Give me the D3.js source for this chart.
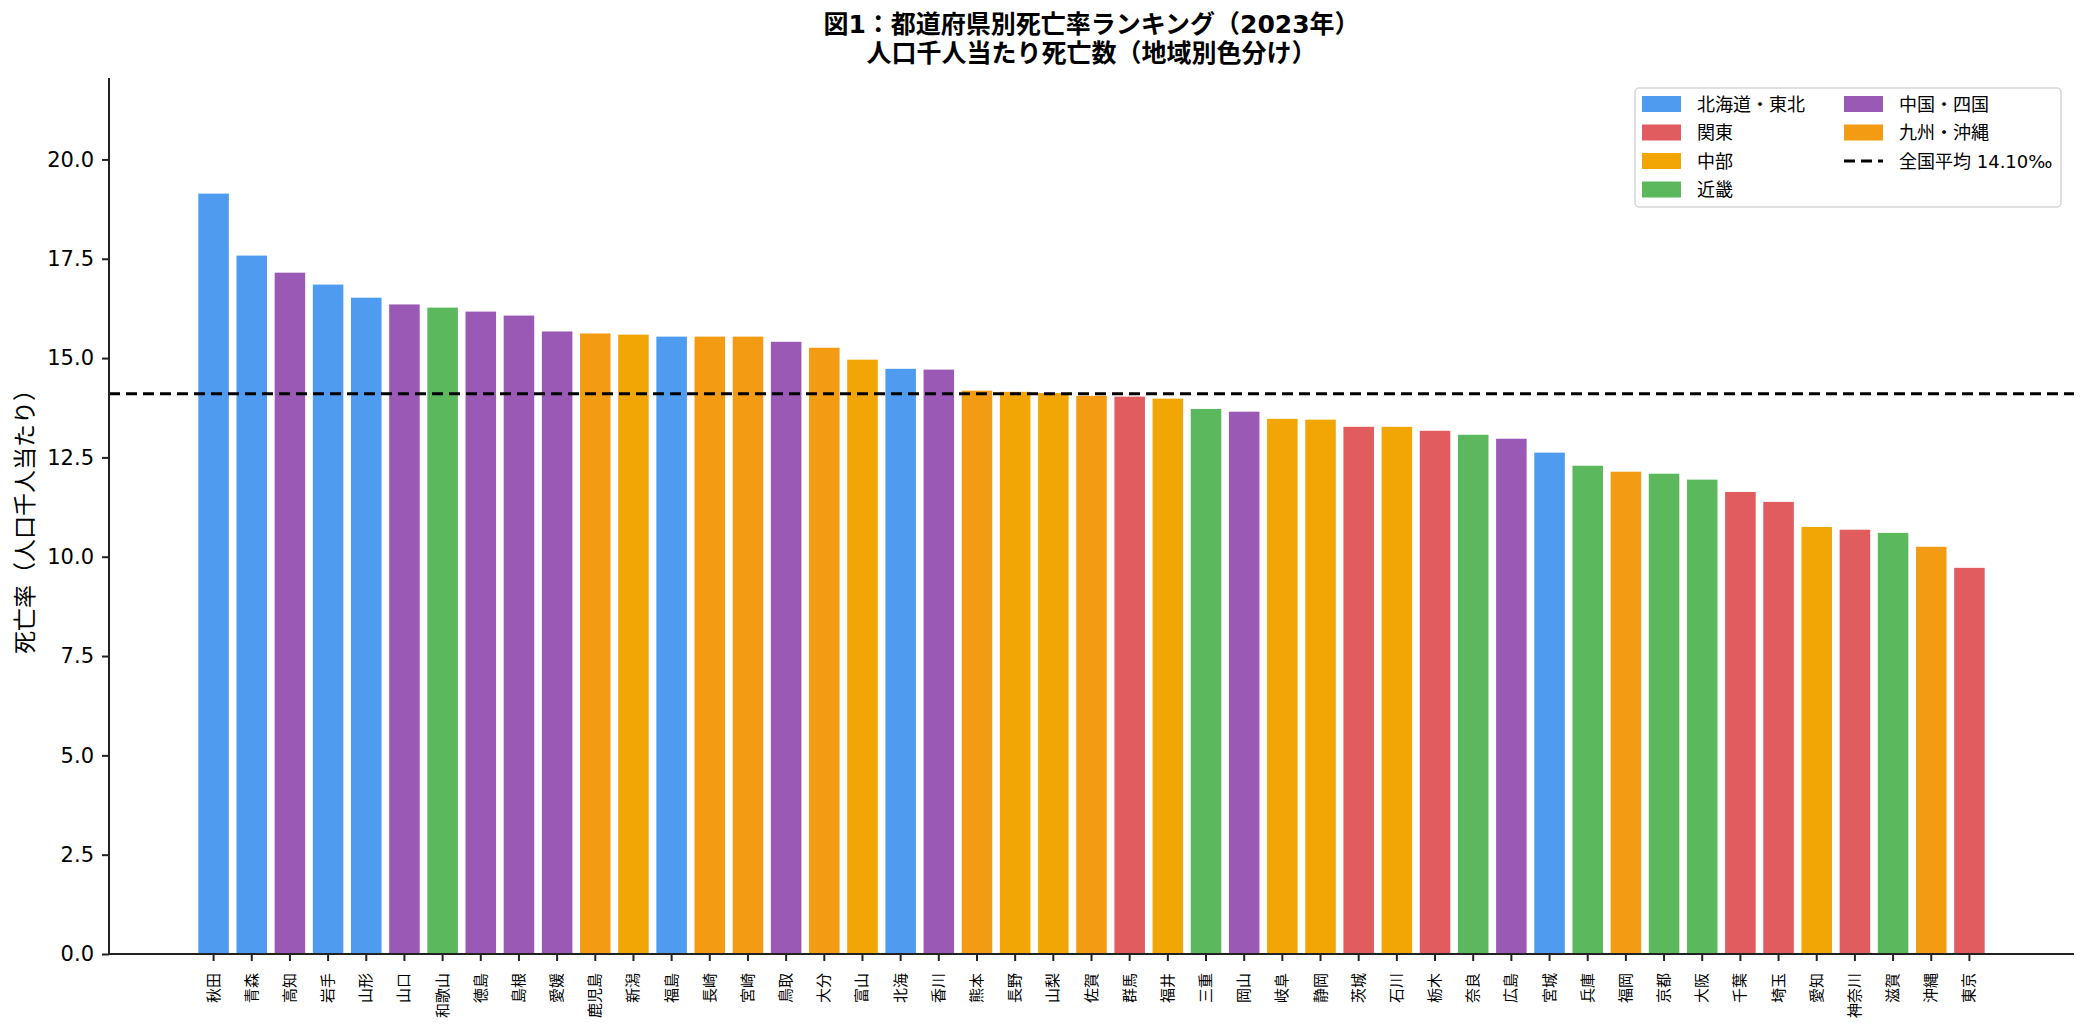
<!DOCTYPE html>
<html>
<head>
<meta charset="utf-8">
<script src="https://cdn.jsdelivr.net/npm/d3@7/dist/d3.min.js"></script>
<style>
  body { margin: 0; background: #fff; }
  svg text { font-family: "DejaVu Sans", "Noto Sans CJK JP", sans-serif; fill: #000; }
</style>
</head>
<body>
<div id="chart"></div>
<script>
// prefectures in ranking order
const prefectures = ["秋田", "青森", "高知", "岩手", "山形", "山口", "和歌山", "徳島", "島根", "愛媛",
  "鹿児島", "新潟", "福島", "長崎", "宮崎", "鳥取", "大分", "富山", "北海", "香川",
  "熊本", "長野", "山梨", "佐賀", "群馬", "福井", "三重", "岡山", "岐阜", "静岡",
  "茨城", "石川", "栃木", "奈良", "広島", "宮城", "兵庫", "福岡", "京都", "大阪",
  "千葉", "埼玉", "愛知", "神奈川", "滋賀", "沖縄", "東京"];

const deathRates = [19.14, 17.58, 17.15, 16.85, 16.52, 16.35, 16.27, 16.17, 16.07, 15.67,
  15.62, 15.59, 15.54, 15.54, 15.54, 15.41, 15.26, 14.96, 14.73, 14.71,
  14.18, 14.15, 14.12, 14.05, 14.03, 13.98, 13.72, 13.65, 13.47, 13.45,
  13.27, 13.27, 13.17, 13.07, 12.97, 12.62, 12.29, 12.14, 12.09, 11.94,
  11.63, 11.38, 10.75, 10.68, 10.60, 10.25, 9.72];

const prefRegions = ["東北", "東北", "中四国", "東北", "東北", "中四国", "近畿", "中四国", "中四国", "中四国",
  "九州", "中部", "東北", "九州", "九州", "中四国", "九州", "中部", "東北", "中四国",
  "九州", "中部", "中部", "九州", "関東", "中部", "近畿", "中四国", "中部", "中部",
  "関東", "中部", "関東", "近畿", "中四国", "東北", "近畿", "九州", "近畿", "近畿",
  "関東", "関東", "中部", "関東", "近畿", "九州", "関東"];

const regionKeys = ["東北", "関東", "中部", "近畿", "中四国", "九州"];
const regionLabels = ["北海道・東北", "関東", "中部", "近畿", "中国・四国", "九州・沖縄"];
const regionColors = ["#4f9bf0", "#e05c5e", "#f1a605", "#5cb85d", "#9b59b6", "#f39c13"];

const nationalAvg = 14.10;
const yTicks = [0, 2.5, 5, 7.5, 10, 12.5, 15, 17.5, 20];

const W = 2085, H = 1034;
const margin = { top: 78, right: 11, bottom: 80, left: 109 };
const plotW = W - margin.left - margin.right,
    plotH = H - margin.top - margin.bottom;

const svg = d3.select("#chart")
  .append("svg")
  .attr("width", W)
  .attr("height", H);

const g = svg.append("g")
  .attr("transform", "translate(" + margin.left + "," + margin.top + ")");

// matplotlib-like xlim: bars span -0.4..46.4, plus 5% margin each side
const n = prefectures.length;
const span = (n - 1) + 0.8;
const pad = span * 0.05;
const idx = d3.scaleLinear().domain([-0.4 - pad, n - 1 + 0.4 + pad]).range([0, plotW]);

const x = d3.scaleBand()
  .domain(prefectures)
  .range([idx(-0.4), idx(n - 1 + 0.4)])
  .paddingInner(0.2)
  .paddingOuter(0);

const y = d3.scaleLinear().domain([0, 22.05]).range([plotH, 0]);

const color = d3.scaleOrdinal().domain(regionKeys).range(regionColors);

// bars
g.selectAll(".bar")
  .data(prefectures)
  .enter()
  .append("rect")
  .attr("class", "bar")
  .attr("x", (d) => x(d))
  .attr("y", (d, i) => y(deathRates[i]))
  .attr("width", x.bandwidth())
  .attr("height", (d, i) => plotH - y(deathRates[i]))
  .attr("fill", (d, i) => color(prefRegions[i]));

// national average line
g.append("line")
  .attr("x1", 0)
  .attr("x2", plotW)
  .attr("y1", y(nationalAvg))
  .attr("y2", y(nationalAvg))
  .attr("stroke", "#000")
  .attr("stroke-width", 3)
  .attr("stroke-dasharray", "11,6");

// y axis
const yAxis = g.append("g")
  .call(d3.axisLeft(y).tickValues(yTicks).tickFormat(d3.format(".1f")).tickSize(7).tickPadding(8));
yAxis.select(".domain").remove();
yAxis.selectAll(".tick line").attr("stroke", "#222").attr("stroke-width", 2);
yAxis.selectAll(".tick text").style("font-size", "21px");

// x axis
const xAxis = g.append("g")
  .attr("transform", "translate(0," + plotH + ")")
  .call(d3.axisBottom(x).tickSize(7));
xAxis.select(".domain").remove();
xAxis.selectAll(".tick line").attr("stroke", "#222").attr("stroke-width", 2);
xAxis.selectAll(".tick text")
  .style("font-size", "15px")
  .attr("text-anchor", "end")
  .attr("dominant-baseline", "central")
  .attr("transform", "translate(0,19) rotate(-90)")
  .attr("x", 0)
  .attr("y", 0)
  .attr("dy", null);

// spines (left + bottom)
g.append("line")
  .attr("x1", 0).attr("x2", 0)
  .attr("y1", 0).attr("y2", plotH + 1)
  .attr("stroke", "#222").attr("stroke-width", 2);
g.append("line")
  .attr("x1", -1).attr("x2", plotW)
  .attr("y1", plotH).attr("y2", plotH)
  .attr("stroke", "#222").attr("stroke-width", 2);

// y label
g.append("text")
  .attr("transform", "translate(-84," + plotH / 2 + ") rotate(-90)")
  .attr("text-anchor", "middle")
  .attr("dominant-baseline", "central")
  .style("font-size", "23px")
  .text("死亡率（人口千人当たり）");

// title (two lines)
const titleLines = ["図1：都道府県別死亡率ランキング（2023年）", "人口千人当たり死亡数（地域別色分け）"];
svg.selectAll(".title")
  .data(titleLines)
  .enter()
  .append("text")
  .attr("class", "title")
  .attr("x", margin.left + plotW / 2)
  .attr("y", (d, i) => 33 + i * 29)
  .attr("text-anchor", "middle")
  .style("font-size", "25px")
  .style("font-weight", "bold")
  .text((d) => d);

// legend
const legend = svg.append("g").attr("transform", "translate(1635,88)");
legend.append("rect")
  .attr("width", 426)
  .attr("height", 119)
  .attr("rx", 4)
  .attr("fill", "#fff")
  .attr("fill-opacity", 0.8)
  .attr("stroke", "#d6d6d6")
  .attr("stroke-width", 1.5);

const legendItems = regionLabels.map((label, i) => ({ label: label, color: regionColors[i], kind: "patch" }));
legendItems.push({ label: "全国平均 " + nationalAvg.toFixed(2) + "‰", color: "#000", kind: "line" });

const rowH = 28.5;
legendItems.forEach(function (d, i) {
  const col = Math.floor(i / 4), row = i % 4;
  const item = legend.append("g")
    .attr("transform", "translate(" + (7 + col * 202) + "," + (16 + row * rowH) + ")");
  if (d.kind === "patch") {
    item.append("rect")
      .attr("x", 0).attr("y", -8)
      .attr("width", 39).attr("height", 16)
      .attr("fill", d.color);
  } else {
    item.append("line")
      .attr("x1", 0).attr("x2", 39)
      .attr("y1", 0).attr("y2", 0)
      .attr("stroke", d.color)
      .attr("stroke-width", 3)
      .attr("stroke-dasharray", "11,6");
  }
  item.append("text")
    .attr("x", 55)
    .attr("y", 0)
    .attr("dominant-baseline", "central")
    .style("font-size", "18px")
    .text(d.label);
});
</script>
</body>
</html>
